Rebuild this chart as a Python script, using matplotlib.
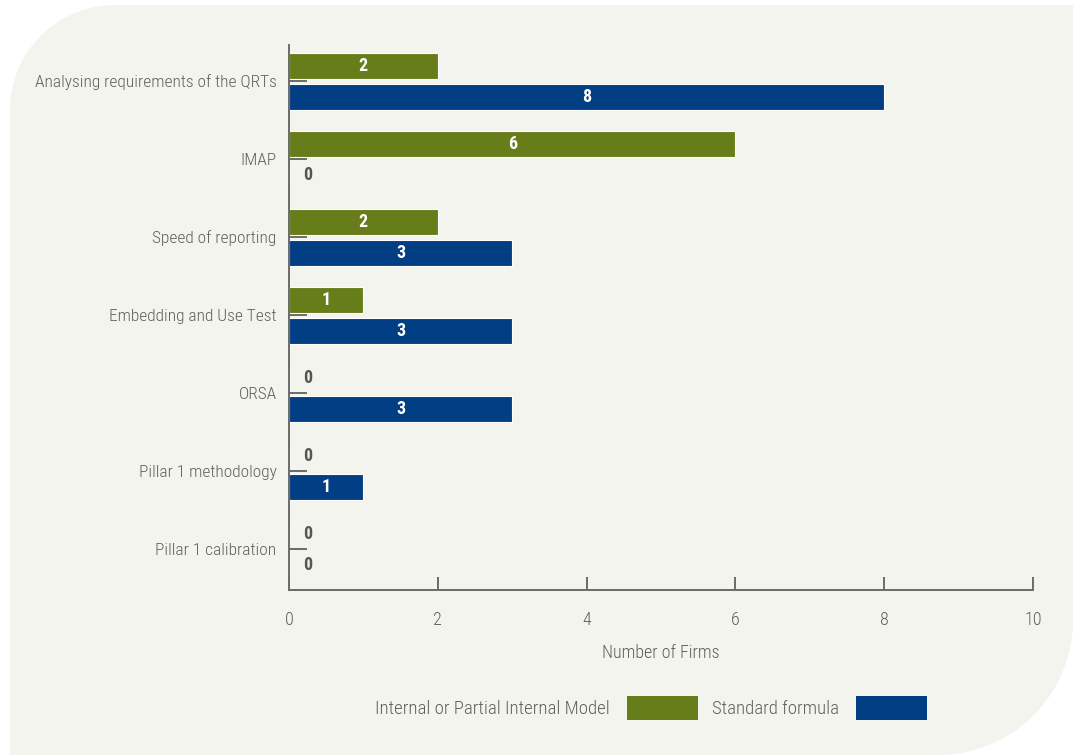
import numpy as np
import matplotlib.pyplot as plt
from matplotlib.path import Path
from matplotlib.patches import PathPatch, Patch

plt.rcParams['font.family'] = ['Roboto Condensed', 'DejaVu Sans']
plt.rcParams['font.weight'] = 'light'
plt.rcParams['axes.labelweight'] = 'light'

# data
categories = ["Analysing requirements of the QRTs", "IMAP", "Speed of reporting",
              "Embedding and Use Test", "ORSA", "Pillar 1 methodology",
              "Pillar 1 calibration"]
internal = [2, 6, 2, 1, 0, 0, 0]
standard = [8, 0, 3, 3, 3, 1, 0]
series_names = ["Internal or Partial Internal Model", "Standard formula"]
x_ticks = [0, 2, 4, 6, 8, 10]

green = "#677d1a"
blue = "#023e84"
grey = "#6b6b6b"
txt_grey = "#5f5f5f"
bg = "#f4f4ef"

fig = plt.figure(figsize=(10.73, 7.55), dpi=100, facecolor="white")

# background panel with two rounded corners (pixel coords)
bax = fig.add_axes([0, 0, 1, 1], zorder=0)
bax.set_xlim(0, 1073)
bax.set_ylim(755, 0)
bax.axis("off")
r1, r2 = 105, 135
t = np.linspace(0, np.pi / 2, 40)
pts = [(1073, 5), (1073, 755 - r2)]
# bottom-right corner
pts += list(zip(1073 - r2 + r2 * np.cos(t), 755 - r2 + r2 * np.sin(t)))
pts += [(10, 755), (10, 5 + r1)]
# top-left corner
pts += list(zip(10 + r1 - r1 * np.cos(t), 5 + r1 - r1 * np.sin(t)))
pts.append((1073, 5))
bax.add_patch(PathPatch(Path(pts), facecolor=bg, edgecolor="none"))

ax = fig.add_axes([289 / 1073, 1 - 590 / 755, (1033 - 289) / 1073, (590 - 45) / 755], zorder=1)
ax.set_facecolor("none")

y = np.arange(len(categories))
h = 0.34
ax.barh(y - 0.195, internal, height=h, color=green, edgecolor="white", linewidth=0.8)
ax.barh(y + 0.205, standard, height=h, color=blue, edgecolor="white", linewidth=0.8)

for vals, off in [(internal, -0.195), (standard, 0.205)]:
    for i, v in enumerate(vals):
        if v > 0:
            ax.text(v / 2, i + off, str(v), ha="center", va="center",
                    color="white", fontsize=13, fontweight="bold")
        else:
            ax.annotate("0", (0, i + off), xytext=(10.5, 0), textcoords="offset points",
                        ha="left", va="center", color="#555555", fontsize=13,
                        fontweight="bold")

ax.set_xlim(0, 10)
ax.set_ylim(6 + 41 / 78, -36 / 78)
ax.set_xticks(x_ticks)
ax.set_yticks(y)
ax.set_yticklabels(categories)

for s in ["top", "right"]:
    ax.spines[s].set_visible(False)
for s in ["left", "bottom"]:
    ax.spines[s].set_color(grey)
    ax.spines[s].set_linewidth(1.4)

ax.tick_params(axis="y", direction="in", length=13, width=1.4, color=grey,
               labelsize=12.5, labelcolor=txt_grey, pad=9)
ax.tick_params(axis="x", direction="in", length=9.5, width=1.4, color=grey,
               labelsize=13, labelcolor=txt_grey, pad=15)
ax.set_xlabel("Number of Firms", fontsize=13, color=txt_grey, labelpad=11)

handles = [Patch(facecolor=green), Patch(facecolor=blue)]
fig.legend(handles, series_names, loc="center", bbox_to_anchor=(651 / 1073, 1 - 708 / 755),
           ncol=2, frameon=False, markerfirst=False, fontsize=13.5,
           handlelength=3.8, handleheight=1.6, handletextpad=0.9,
           columnspacing=0.75, labelcolor=txt_grey)

fig.savefig("out.png", dpi=100, facecolor="white")
